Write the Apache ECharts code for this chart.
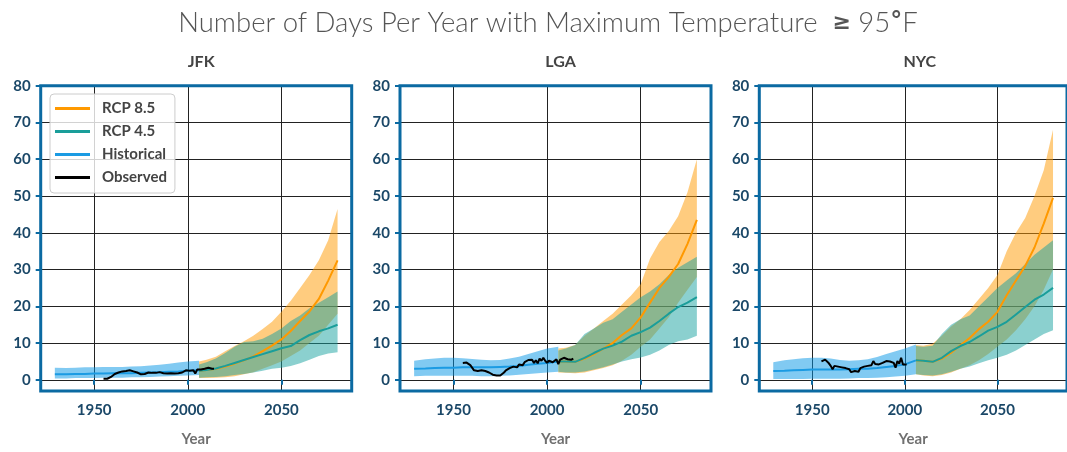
<!DOCTYPE html>
<html><head><meta charset="utf-8">
<script src="https://cdn.jsdelivr.net/npm/echarts@6/dist/echarts.min.js"></script>
<style>html,body{margin:0;padding:0;background:#fff;}#c{width:1067px;height:452px;}</style>
</head><body><div id="c"></div>
<script>
const stations = ['JFK', 'LGA', 'NYC'];
const xTicks = [1950, 2000, 2050];
const yTicks = [0, 10, 20, 30, 40, 50, 60, 70, 80];

const histYears = [1929,1935,1940,1945,1950,1955,1960,1965,1970,1975,1980,1985,1990,1995,2000,2006];
const rcpYears = [2006,2010,2015,2020,2025,2030,2035,2040,2045,2050,2055,2060,2065,2070,2075,2080];
const obsYears = [1955,1956,1957,1958,1959,1960,1961,1962,1963,1964,1965,1966,1967,1968,1969,1970,1971,1972,1973,1974,1975,1976,1977,1978,1979,1980,1981,1982,1983,1984,1985,1986,1987,1988,1989,1990,1991,1992,1993,1994,1995,1996,1997,1998,1999,2000,2001,2002,2003,2004,2005,2006,2007,2008,2009,2010,2011,2012,2013,2014];

// JFK
const jfkHist   = [1.5,1.5,1.6,1.6,1.7,1.7,1.8,1.8,1.8,1.9,2.0,2.1,2.2,2.3,2.5,2.6];
const jfkHistHi = [3.3,3.2,3.3,3.4,3.4,3.5,3.5,3.5,3.6,3.7,3.9,4.1,4.4,4.7,5.0,5.2];
const jfkHistLo = [0.4,0.4,0.5,0.5,0.5,0.6,0.6,0.6,0.7,0.7,0.8,0.9,1.0,1.1,1.2,1.3];
const jfk85   = [2.5,2.7,3.0,3.6,4.4,5.3,6.4,7.8,9.3,11.0,13.3,16.0,18.6,22.0,27.0,32.5];
const jfk85Hi = [5.0,5.5,6.3,7.8,9.2,10.5,12.0,13.8,15.8,18.5,21.5,25.0,28.5,32.5,38.0,46.5];
const jfk85Lo = [0.5,0.5,0.6,0.7,1.0,1.5,2.1,3.0,4.0,5.0,6.5,8.0,10.0,12.0,15.0,18.0];
const jfk45   = [2.5,2.7,3.1,3.8,4.6,5.4,6.2,7.0,7.8,8.6,9.2,10.8,12.2,13.2,14.0,15.0];
const jfk45Hi = [4.2,4.8,5.8,7.3,9.0,10.3,10.5,11.2,12.5,14.0,16.0,17.5,19.5,21.0,22.5,24.0];
const jfk45Lo = [0.6,0.7,0.8,1.0,1.3,1.6,2.0,2.5,3.0,3.3,3.8,4.5,5.5,6.5,7.2,7.5];
const jfkObs  = [0.3,0.3,0.3,0.3,0.8,1.3,1.6,1.8,2.0,2.2,2.3,2.5,2.4,2.8,2.6,2.5,2.3,2.1,2.0,1.7,1.5,1.8,1.6,1.9,2.0,1.8,1.9,2.0,1.9,2.0,2.1,1.9,1.8,2.1,1.7,1.6,1.8,1.6,1.7,2.0,1.8,2.3,2.0,2.2,2.6,2.2,2.5,2.7,2.6,1.7,2.8,2.6,2.8,2.7,3.0,3.2,3.3,2.9,3.0,3.0];

// LGA
const lgaHist   = [3.0,3.1,3.2,3.3,3.3,3.4,3.4,3.4,3.4,3.5,3.6,3.8,4.1,4.4,4.6,5.0];
const lgaHistHi = [5.2,5.6,5.8,6.0,6.0,5.9,5.7,5.5,5.3,5.4,5.8,6.3,7.0,7.8,8.5,9.0];
const lgaHistLo = [1.0,1.1,1.1,1.1,1.1,1.1,1.1,1.0,1.0,1.1,1.2,1.4,1.6,1.8,2.0,2.2];
const lga85   = [5.0,5.0,4.9,5.8,7.0,8.5,10.0,12.2,14.0,17.0,21.0,25.0,28.0,31.5,37.0,43.5];
const lga85Hi = [8.5,8.7,9.5,12.0,14.0,16.0,18.0,20.5,23.0,26.0,33.0,37.5,40.5,44.5,51.0,60.0];
const lga85Lo = [2.0,1.9,1.8,2.0,2.6,3.2,4.0,5.2,6.8,9.0,11.0,14.0,17.0,21.0,24.5,28.0];
const lga45   = [5.0,5.0,4.9,6.0,7.3,8.5,9.3,10.4,12.0,13.0,14.2,16.0,18.0,19.8,21.0,22.5];
const lga45Hi = [8.0,8.5,9.5,12.5,14.0,15.5,16.5,18.5,20.5,22.5,24.0,26.0,28.5,30.5,32.0,33.5];
const lga45Lo = [2.2,2.0,2.0,2.3,2.8,3.4,4.2,5.0,5.6,6.1,6.8,8.0,9.5,10.5,11.0,12.0];
const lgaObs  = [4.6,4.6,4.7,4.6,4.0,3.5,2.6,3.0,2.4,2.8,2.6,2.7,2.4,2.3,2.0,1.7,1.4,0.9,1.2,1.0,1.2,1.6,2.0,2.6,2.8,3.2,3.0,3.6,3.8,3.4,4.2,4.4,4.0,4.8,4.6,5.4,5.0,5.5,4.6,5.3,4.5,5.8,5.2,6.0,5.2,4.6,5.2,5.6,4.8,5.2,5.6,4.3,5.5,5.2,6.0,6.3,5.6,5.9,5.5,5.8];

// NYC
const nycHist   = [2.4,2.5,2.6,2.7,2.8,2.8,2.8,2.8,2.9,3.0,3.0,3.2,3.5,3.8,4.2,5.3];
const nycHistHi = [4.8,5.3,5.6,5.9,6.0,6.0,5.8,5.4,5.2,5.3,5.6,6.2,7.0,7.8,8.5,9.6];
const nycHistLo = [0.2,0.2,0.2,0.2,0.3,0.3,0.3,0.3,0.4,0.5,0.5,0.6,0.7,0.9,1.1,1.5];
const nyc85   = [5.3,5.2,4.9,5.8,7.4,9.4,11.4,13.8,15.8,18.5,23.0,27.0,31.0,36.0,42.5,49.5];
const nyc85Hi = [9.5,9.3,9.8,12.0,14.5,16.5,19.0,22.0,25.0,28.5,35.0,40.0,44.0,50.0,57.0,68.0];
const nyc85Lo = [1.5,1.2,1.0,1.3,2.0,3.0,4.0,5.3,7.0,9.0,11.0,13.5,16.5,20.0,24.5,30.0];
const nyc45   = [5.3,5.2,4.9,6.0,7.8,9.2,10.3,11.8,13.4,14.4,15.8,17.8,19.8,21.8,23.2,25.0];
const nyc45Hi = [9.2,9.0,9.3,12.5,15.0,16.5,17.5,20.0,22.5,25.0,27.0,29.0,31.5,34.0,36.0,38.0];
const nyc45Lo = [1.5,1.3,1.2,1.5,2.2,3.0,3.6,4.5,5.3,6.0,6.8,8.0,9.5,11.0,12.5,13.5];
const nycObs  = [5.0,5.2,5.5,5.0,4.5,3.8,2.9,3.8,3.4,3.6,3.3,3.4,3.0,3.2,2.8,2.9,2.1,2.6,2.4,2.9,2.2,3.2,3.4,3.6,3.9,3.8,3.6,4.0,5.1,4.3,4.6,4.2,4.4,4.6,4.9,5.1,5.5,5.0,4.8,4.6,3.3,5.1,4.4,6.0,4.2,3.8,4.2];

const panels = [
  {hist: jfkHist, histHi: jfkHistHi, histLo: jfkHistLo, r85: jfk85, r85Hi: jfk85Hi, r85Lo: jfk85Lo, r45: jfk45, r45Hi: jfk45Hi, r45Lo: jfk45Lo, obs: jfkObs},
  {hist: lgaHist, histHi: lgaHistHi, histLo: lgaHistLo, r85: lga85, r85Hi: lga85Hi, r85Lo: lga85Lo, r45: lga45, r45Hi: lga45Hi, r45Lo: lga45Lo, obs: lgaObs},
  {hist: nycHist, histHi: nycHistHi, histLo: nycHistLo, r85: nyc85, r85Hi: nyc85Hi, r85Lo: nyc85Lo, r45: nyc45, r45Hi: nyc45Hi, r45Lo: nyc45Lo, obs: nycObs}
];

const C85 = '#ff9900', C45 = '#1a9e9a', CH = '#1b9be3', CO = '#000000';
const BORDER = '#0b6aa2';
const pairs = (xs, ys) => ys.map((v, i) => [xs[i], v]);

const gridLefts = [40.7, 400, 759.3];
const grids = [], xAxes = [], yAxes = [], series = [], titles = [];

titles.push({
  text: '{l|Number of Days Per Year with Maximum Temperature  }{g|\u2265}{l| 95}{d|\u00b0}{l|F}',
  left: 543, top: 4, textAlign: 'center',
  textStyle: {
    rich: {
      l: {fontFamily: 'Lato', fontWeight: 300, fontSize: 27.5, color: '#555'},
      g: {fontFamily: 'DejaVu Sans', fontWeight: 'bold', fontSize: 22, color: '#555'},
      d: {fontFamily: 'DejaVu Sans', fontWeight: 'bold', fontSize: 24, color: '#555'}
    }
  }
});

const labelFmt = v => String(v);

panels.forEach((p, i) => {
  grids.push({left: gridLefts[i], top: 85.7, width: 311, height: 309.6, show: true,
    borderColor: BORDER, borderWidth: 3, backgroundColor: 'transparent', z: 3});
  titles.push({text: stations[i], left: gridLefts[i] + 155.5, top: 49, textAlign: 'center',
    textStyle: {fontFamily: 'Lato', fontWeight: 'bold', fontSize: 16, color: '#444'}});
  xAxes.push({type: 'value', gridIndex: i, min: 1921.45, max: 2087.55,
    name: 'Year', nameLocation: 'middle', nameGap: 41,
    nameTextStyle: {fontFamily: 'Lato', fontWeight: 'bold', fontSize: 15, color: '#707070'},
    axisLine: {show: false},
    axisTick: {show: true, length: 5, customValues: xTicks, lineStyle: {color: BORDER, width: 2}},
    axisLabel: {customValues: xTicks, formatter: labelFmt, margin: 12, fontFamily: 'Lato', fontWeight: 'bold', fontSize: 15, color: '#1b4868'},
    splitLine: {show: true, lineStyle: {color: '#222', width: 1}}
  });
  yAxes.push({type: 'value', gridIndex: i, min: -3.03, max: 80,
    axisLine: {show: false},
    axisTick: {show: true, length: 5, customValues: yTicks, lineStyle: {color: BORDER, width: 2}},
    axisLabel: {customValues: yTicks, formatter: labelFmt, margin: 10, fontFamily: 'Lato', fontWeight: 'bold', fontSize: 15, color: '#1b4868'},
    splitLine: {show: true, lineStyle: {color: '#222', width: 1}}
  });
  const band = (id, xs, lo, hi, color) => {
    series.push({
      type: 'custom', name: id + i, xAxisIndex: i, yAxisIndex: i, silent: true,
      data: [[xs[0], lo[0]]],
      renderItem: (params, api) => {
        const pts = [];
        for (let k = 0; k < xs.length; k++) pts.push(api.coord([xs[k], hi[k]]));
        for (let k = xs.length - 1; k >= 0; k--) pts.push(api.coord([xs[k], lo[k]]));
        return {type: 'polygon', shape: {points: pts}, style: {fill: color}};
      }
    });
  };
  band('h', histYears, p.histLo, p.histHi, 'rgba(3,150,230,0.5)');
  band('a', rcpYears, p.r85Lo, p.r85Hi, 'rgba(255,153,0,0.5)');
  band('b', rcpYears, p.r45Lo, p.r45Hi, 'rgba(23,162,160,0.5)');
  const line = (name, xs, ys, color) => series.push({type: 'line', xAxisIndex: i, yAxisIndex: i,
    symbol: 'none', showSymbol: false, silent: true, name: name, data: pairs(xs, ys),
    itemStyle: {color: color}, lineStyle: {color: color, width: 2}});
  line('Historical', histYears, p.hist, CH);
  line('RCP 8.5', rcpYears, p.r85, C85);
  line('RCP 4.5', rcpYears, p.r45, C45);
  line('Observed', obsYears.slice(0, p.obs.length), p.obs, CO);
});

const chart = echarts.init(document.getElementById('c'), null, {renderer: 'canvas'});
chart.setOption({
  animation: false,
  title: titles,
  grid: grids, xAxis: xAxes, yAxis: yAxes, series: series,
  legend: {
    data: ['RCP 8.5', 'RCP 4.5', 'Historical', 'Observed'],
    orient: 'vertical', left: 50, top: 94, icon: 'rect', itemWidth: 35, itemHeight: 3, itemGap: 6,
    padding: [6, 8, 7, 5], backgroundColor: 'rgba(255,255,255,0.8)', borderColor: '#ccc', borderWidth: 1, borderRadius: 4,
    selectedMode: false,
    textStyle: {fontFamily: 'Lato', fontWeight: 'bold', fontSize: 15, color: '#444', lineHeight: 17, padding: [0, 0, 0, 7]}
  }
});
</script></body></html>
